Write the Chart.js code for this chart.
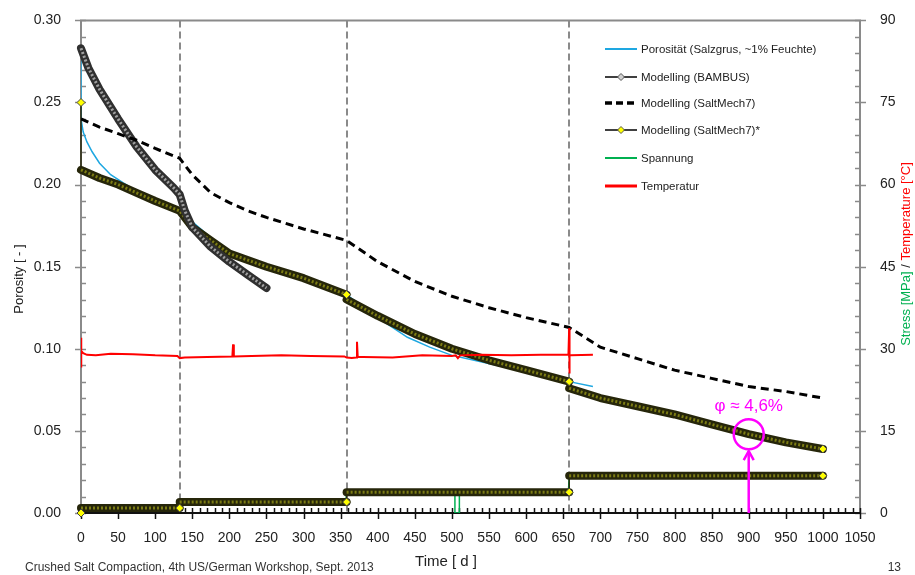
<!DOCTYPE html>
<html>
<head>
<meta charset="utf-8">
<script src="https://cdn.jsdelivr.net/npm/chart.js@4.4.0/dist/chart.umd.min.js"></script>
<style>
html,body{margin:0;padding:0;background:#fff;}
#wrap{width:915px;height:575px;position:relative;}
</style>
</head>
<body>
<div id="wrap"><canvas id="chart" width="915" height="575"></canvas></div>
<script>
// axis ticks
const xTicks = [0,50,100,150,200,250,300,350,400,450,500,550,600,650,700,750,800,850,900,950,1000,1050];
const porosityTicks = [0,0.05,0.10,0.15,0.20,0.25,0.30];
const rightTicks = [0,15,30,45,60,75,90];
const phaseDays = [133, 358, 658];

// Porosität (Salzgrus, ~1% Feuchte)
const porosityDays   = [0, 0, 3, 8, 15, 25, 40, 57, 75, 100, 133, 200, 250, 300, 358, 400, 440, 470, 500, 530, 560, 600, 658, 690];
const porosityValues = [0.283, 0.240, 0.232, 0.226, 0.220, 0.213, 0.206, 0.201, 0.196, 0.191, 0.184, 0.158, 0.150, 0.143, 0.133, 0.119, 0.107, 0.101, 0.096, 0.093, 0.090, 0.087, 0.080, 0.077];

// Modelling (BAMBUS)
const bambusDays   = [0, 10, 25, 50, 75, 100, 125, 133, 140, 150, 175, 200, 225, 250];
const bambusValues = [0.283, 0.271, 0.258, 0.240, 0.223, 0.209, 0.198, 0.194, 0.184, 0.174, 0.162, 0.153, 0.145, 0.137];

// Modelling (SaltMech7)
const sm7Days   = [0, 25, 50, 75, 100, 133, 150, 175, 200, 225, 250, 300, 358, 400, 450, 500, 550, 600, 658, 700, 750, 800, 850, 900, 950, 1000];
const sm7Values = [0.240, 0.235, 0.231, 0.227, 0.222, 0.216, 0.206, 0.195, 0.189, 0.184, 0.180, 0.173, 0.166, 0.153, 0.141, 0.132, 0.125, 0.119, 0.113, 0.101, 0.094, 0.087, 0.082, 0.077, 0.074, 0.070];

// Modelling (SaltMech7)*
const sm7StarDays   = [0, 0, 25, 50, 75, 100, 133, 150, 175, 200, 250, 300, 358, 358, 400, 450, 500, 550, 600, 658, 658, 700, 750, 800, 850, 900, 950, 1000];
const sm7StarValues = [0.250, 0.209, 0.204, 0.200, 0.195, 0.190, 0.184, 0.174, 0.166, 0.158, 0.150, 0.143, 0.133, 0.130, 0.120, 0.109, 0.100, 0.093, 0.087, 0.080, 0.076, 0.070, 0.065, 0.060, 0.054, 0.048, 0.043, 0.039];

// stress model steps (right axis, MPa)
const stressModelDays   = [0, 0, 133, 133, 358, 358, 658, 658, 1000];
const stressModelValues = [0, 0.9, 0.9, 2.0, 2.0, 3.8, 3.8, 6.8, 6.8];

// Spannung (measured, MPa)
const stressDays   = [0, 1, 133, 134, 357, 358, 504, 504, 510, 510, 657, 658, 690];
const stressValues = [0, 0.9, 0.9, 2.0, 2.0, 3.8, 3.8, 0, 0, 3.8, 3.8, 6.8, 6.8];

// Temperatur (°C)
const tempDays   = [0, 0, 0, 1, 3, 8, 20, 40, 70, 100, 130, 133, 140, 170, 204, 205, 206, 230, 270, 310, 355, 358, 365, 371, 372, 373, 380, 420, 460, 500, 505, 508, 511, 540, 580, 620, 657, 658, 658, 659, 660, 690];
const tempValues = [28.7, 32.0, 26.6, 29.6, 29.2, 28.9, 28.8, 29.1, 29.0, 28.8, 28.7, 28.3, 28.4, 28.5, 28.6, 30.8, 28.6, 28.7, 28.8, 28.7, 28.6, 28.4, 28.3, 28.4, 31.3, 28.5, 28.5, 28.4, 28.8, 28.7, 28.8, 28.3, 28.8, 28.9, 28.8, 28.9, 28.9, 33.8, 25.5, 28.9, 28.8, 28.9];

const noteDay = 900, notePorosity = 0.048, noteText = 'φ ≈ 4,6%';

const FONT = "'Liberation Sans', Arial, sans-serif";

function pts(days, vals){ return days.map((d,i)=>({x:d, y:vals[i]})); }

function isVertical(c){ return c.p0.parsed.x === c.p1.parsed.x; }

function knee(ctx){
    const data = ctx.dataset.data, i = ctx.dataIndex;
    if(i === 0 || i === data.length-1) return 4;
    if(data[i+1] && data[i+1].x === data[i].x) return 4;
    return 0;
}

const bandOuter = (data, color, axis, order) => ({
    data, yAxisID: axis, order, borderColor: color, borderWidth: 8, pointRadius: 0, clip: 10,
    borderJoinStyle: 'round', borderCapStyle: 'round',
    segment: { borderWidth: c => isVertical(c) ? 1.5 : 8 }
});
const bandInner = (data, color, axis, order, markerFill) => ({
    data, yAxisID: axis, order, borderColor: color, borderWidth: 3, borderDash: [2,2], clip: 10,
    pointRadius: markerFill ? knee : 0, pointHoverRadius: 0, pointStyle: 'rectRot',
    pointBackgroundColor: markerFill, pointBorderColor: '#444', pointBorderWidth: 1,
    segment: { borderColor: c => isVertical(c) ? 'rgba(0,0,0,0)' : color }
});

const frame = {
    id: 'frame',
    beforeDatasetsDraw(chart){
        const {ctx, chartArea: a, scales: {x, y, y2}} = chart;
        ctx.save();
        ctx.strokeStyle = '#8a8a8a';
        ctx.lineWidth = 2;
        ctx.setLineDash([7,4]);
        phaseDays.forEach(d=>{
            const px = Math.round(x.getPixelForValue(d));
            ctx.beginPath(); ctx.moveTo(px, a.top); ctx.lineTo(px, a.bottom); ctx.stroke();
        });
        ctx.setLineDash([]);

        // frame lines
        ctx.lineWidth = 2;
        ctx.strokeStyle = '#8a8a8a';
        ctx.beginPath();
        ctx.moveTo(a.left, a.bottom); ctx.lineTo(a.left, a.top); ctx.lineTo(a.right, a.top); ctx.lineTo(a.right, a.bottom);
        ctx.stroke();
        // left ticks
        ctx.lineWidth = 1.5;
        for(let v = 0; v <= 0.3001; v += 0.01){
            const py = Math.round(y.getPixelForValue(v)) + 0.5;
            const major = Math.abs(v*20 - Math.round(v*20)) < 1e-6;
            ctx.beginPath(); ctx.moveTo(a.left - (major ? 6 : 0), py); ctx.lineTo(a.left + 5, py); ctx.stroke();
        }
        // right ticks
        for(let v = 0; v <= 90; v += 3){
            const py = Math.round(y2.getPixelForValue(v)) + 0.5;
            const major = v % 15 === 0;
            ctx.beginPath(); ctx.moveTo(a.right - 5, py); ctx.lineTo(a.right + (major ? 6 : 0), py); ctx.stroke();
        }
        // bottom axis
        ctx.strokeStyle = '#111';
        ctx.lineWidth = 2;
        ctx.beginPath(); ctx.moveTo(a.left, a.bottom); ctx.lineTo(a.right, a.bottom); ctx.stroke();
        ctx.lineWidth = 1.5;
        for(let v = 0; v <= 1050; v += 10){
            const px = Math.round(x.getPixelForValue(v)) + 0.5;
            const major = v % 50 === 0;
            ctx.beginPath(); ctx.moveTo(px, a.bottom - 5); ctx.lineTo(px, a.bottom + (major ? 6 : 0)); ctx.stroke();
        }
        ctx.restore();
    },
    afterDatasetsDraw(chart){
        const {ctx, chartArea: a, scales: {x, y}} = chart;
        ctx.save();
        // annotation
        const cx = x.getPixelForValue(noteDay), cy = y.getPixelForValue(notePorosity), r = 15;
        ctx.strokeStyle = '#ff00ff'; ctx.lineWidth = 2.5;
        ctx.beginPath(); ctx.arc(cx, cy, r, 0, Math.PI*2); ctx.stroke();
        ctx.beginPath(); ctx.moveTo(cx, a.bottom); ctx.lineTo(cx, cy + r + 2); ctx.stroke();
        ctx.beginPath(); ctx.moveTo(cx-5, cy + r + 11); ctx.lineTo(cx, cy + r + 2); ctx.lineTo(cx+5, cy + r + 11); ctx.stroke();
        ctx.fillStyle = '#ff00ff'; ctx.font = '17px ' + FONT; ctx.textAlign = 'center'; ctx.textBaseline = 'alphabetic';
        ctx.fillText(noteText, cx, cy - 23);

        // legend
        const rows = [49, 77, 103, 130, 158, 186];
        const lx0 = 605, lx1 = 637, tx = 641;
        const items = [
            {label: 'Porosität (Salzgrus, ~1% Feuchte)', color: '#1ea7e1', w: 2},
            {label: 'Modelling (BAMBUS)', color: '#000', w: 1.5, marker: '#d0d0d0'},
            {label: 'Modelling (SaltMech7)', color: '#000', w: 3.5, dash: [7,4]},
            {label: 'Modelling (SaltMech7)*', color: '#000', w: 1.5, marker: '#ffff00'},
            {label: 'Spannung', color: '#00b050', w: 2},
            {label: 'Temperatur', color: '#ff0000', w: 3}
        ];
        ctx.font = '11.5px ' + FONT; ctx.textAlign = 'left'; ctx.textBaseline = 'middle';
        items.forEach((it, i)=>{
            const ly = rows[i];
            ctx.strokeStyle = it.color; ctx.lineWidth = it.w; ctx.setLineDash(it.dash || []);
            ctx.beginPath(); ctx.moveTo(lx0, ly); ctx.lineTo(lx1, ly); ctx.stroke();
            ctx.setLineDash([]);
            if(it.marker){
                const mx = (lx0 + lx1)/2;
                ctx.fillStyle = it.marker; ctx.strokeStyle = '#555'; ctx.lineWidth = 1;
                ctx.beginPath(); ctx.moveTo(mx, ly-3.5); ctx.lineTo(mx+3.5, ly); ctx.lineTo(mx, ly+3.5); ctx.lineTo(mx-3.5, ly); ctx.closePath();
                ctx.fill(); ctx.stroke();
            }
            ctx.fillStyle = '#222';
            ctx.fillText(it.label, tx, ly + 1);
        });

        // axis titles
        ctx.fillStyle = '#222';
        ctx.font = '13px ' + FONT;
        ctx.save(); ctx.translate(19, 279); ctx.rotate(-Math.PI/2);
        ctx.textAlign = 'center'; ctx.textBaseline = 'middle';
        ctx.fillText('Porosity [ - ]', 0, 0);
        ctx.restore();

        ctx.save(); ctx.translate(906, 254); ctx.rotate(-Math.PI/2);
        ctx.textBaseline = 'middle'; ctx.textAlign = 'left';
        const parts = [['Stress [MPa]', '#00b050'], [' / ', '#222'], ['Temperature [°C]', '#ff0000']];
        const total = parts.reduce((s,p)=>s + ctx.measureText(p[0]).width, 0);
        let off = -total/2;
        parts.forEach(p=>{ ctx.fillStyle = p[1]; ctx.fillText(p[0], off, 0); off += ctx.measureText(p[0]).width; });
        ctx.restore();

        ctx.fillStyle = '#222';
        ctx.font = '15px ' + FONT; ctx.textAlign = 'center'; ctx.textBaseline = 'middle';
        ctx.fillText('Time [ d ]', 446, 562);

        ctx.font = '12px ' + FONT; ctx.fillStyle = '#333';
        ctx.textAlign = 'left';
        ctx.fillText('Crushed Salt Compaction, 4th US/German Workshop, Sept. 2013', 25, 568);
        ctx.textAlign = 'right';
        ctx.fillText('13', 901, 568);
        ctx.restore();
    }
};

const tickFont = { family: FONT, size: 14 };

new Chart(document.getElementById('chart').getContext('2d'), {
    type: 'line',
    data: {
        datasets: [
            { label: 'Temperatur', data: pts(tempDays, tempValues), yAxisID: 'y2', order: 0,
              borderColor: '#ff0000', borderWidth: 2, pointRadius: 0 },
            { label: 'Modelling (SaltMech7)', data: pts(sm7Days, sm7Values), yAxisID: 'y', order: 1,
              borderColor: '#000', borderWidth: 3, borderDash: [8,5], pointRadius: 0 },
            Object.assign(bandInner(pts(bambusDays, bambusValues), '#a0a0a0', 'y', 2, null), {label: 'BAMBUS inner'}),
            Object.assign(bandOuter(pts(bambusDays, bambusValues), '#303030', 'y', 3), {label: 'Modelling (BAMBUS)'}),
            Object.assign(bandInner(pts(sm7StarDays, sm7StarValues), '#7c7c14', 'y', 4, '#ffff00'), {label: 'SaltMech7* inner'}),
            Object.assign(bandOuter(pts(sm7StarDays, sm7StarValues), '#26260a', 'y', 5), {label: 'Modelling (SaltMech7)*'}),
            { label: 'Porosität (Salzgrus, ~1% Feuchte)', data: pts(porosityDays, porosityValues), yAxisID: 'y', order: 6,
              borderColor: '#1ea7e1', borderWidth: 1.5, pointRadius: 0 },
            Object.assign(bandInner(pts(stressModelDays, stressModelValues), '#7c7c14', 'y2', 7, '#ffff00'), {label: 'stress inner'}),
            Object.assign(bandOuter(pts(stressModelDays, stressModelValues), '#26260a', 'y2', 8), {label: 'stress model'}),
            { label: 'Spannung', data: pts(stressDays, stressValues), yAxisID: 'y2', order: 9,
              borderColor: '#00b050', borderWidth: 1.5, pointRadius: 0 }
        ]
    },
    options: {
        responsive: false,
        animation: false,
        layout: { padding: { top: 18, left: 0, right: 0, bottom: 0 } },
        plugins: { legend: { display: false }, tooltip: { enabled: false } },
        elements: { line: { tension: 0 } },
        scales: {
            x: {
                type: 'linear', min: 0, max: 1050,
                afterBuildTicks: s => { s.ticks = xTicks.map(v=>({value: v})); },
                afterFit: s => { s.height = 62; },
                grid: { display: false }, border: { display: false },
                ticks: { font: tickFont, color: '#222', padding: 9, maxRotation: 0, autoSkip: false, callback: v => String(v) }
            },
            y: {
                type: 'linear', position: 'left', min: 0, max: 0.30,
                afterBuildTicks: s => { s.ticks = porosityTicks.map(v=>({value: v})); },
                afterFit: s => { s.width = 81; },
                grid: { display: false }, border: { display: false },
                ticks: { font: tickFont, color: '#222', padding: 12, callback: v => v.toFixed(2) }
            },
            y2: {
                type: 'linear', position: 'right', min: 0, max: 90,
                afterBuildTicks: s => { s.ticks = rightTicks.map(v=>({value: v})); },
                afterFit: s => { s.width = 55; },
                grid: { display: false }, border: { display: false },
                ticks: { font: tickFont, color: '#222', padding: 12, callback: v => String(v) }
            }
        }
    },
    plugins: [frame]
});
</script>
</body>
</html>
